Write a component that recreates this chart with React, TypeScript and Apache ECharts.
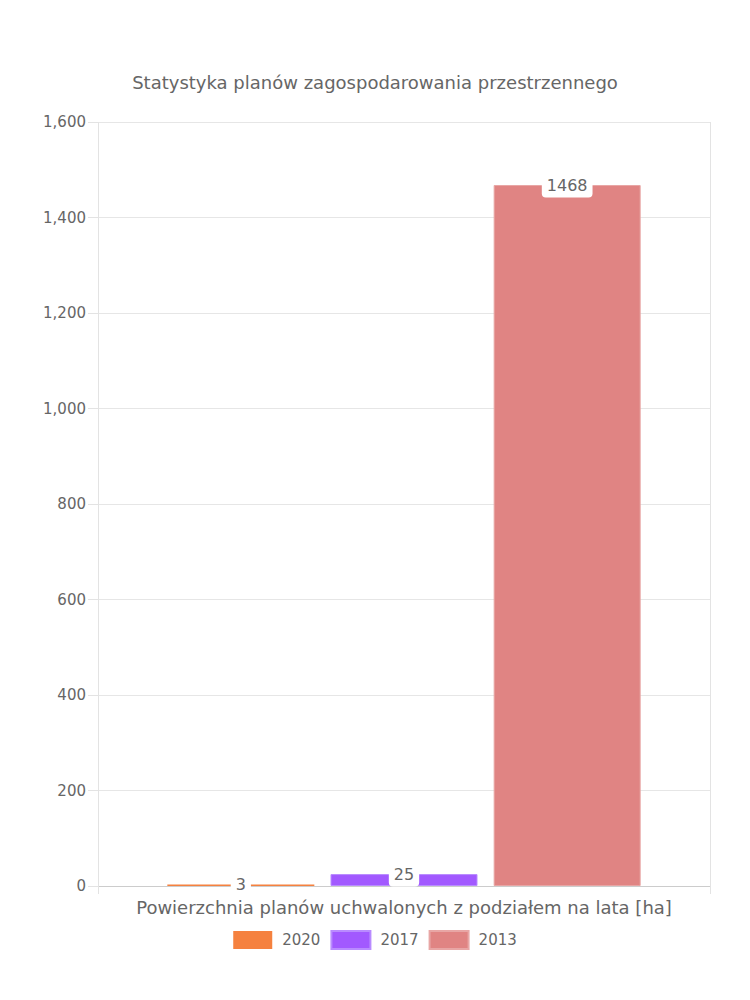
import React, { useEffect, useRef } from "react";
import * as echarts from "echarts";

const title = "Statystyka planów zagospodarowania przestrzennego";
const categories = ["Powierzchnia planów uchwalonych z podziałem na lata [ha]"];
const seriesNames = ["2020", "2017", "2013"];
const seriesValues = [[3], [25], [1468]];
const seriesColors = ["#F5813F", "#A259FF", "#E08483"];
const seriesBorders = ["#F5813F", "#B98BFF", "#E8A6A5"];
const yMin = 0;
const yMax = 1600;
const yInterval = 200;

const FONT = "'DejaVu Sans', 'Noto Sans', sans-serif";

export default function App() {
  const ref = useRef<HTMLDivElement>(null);
  useEffect(() => {
    if (!ref.current) return;
    const chart = echarts.init(ref.current, undefined, { renderer: "svg" });
    chart.setOption({
      animation: false,
      textStyle: { fontFamily: FONT },
      title: {
        text: title,
        left: "center",
        top: 68,
        textStyle: { fontFamily: FONT, fontSize: 18, fontWeight: "normal", color: "#666" },
      },
      legend: {
        data: seriesNames,
        bottom: 45,
        left: "center",
        itemWidth: 39,
        itemHeight: 18,
        itemGap: 10,
        icon: "rect",
        textStyle: { fontFamily: FONT, fontSize: 15, color: "#666", padding: [0, 0, 0, 5] },
      },
      grid: { left: 98, right: 40, top: 122, bottom: 114, containLabel: false },
      xAxis: {
        type: "category",
        data: categories,
        boundaryGap: true,
        axisLine: { show: true, lineStyle: { color: "#ccc" } },
        axisTick: { show: true, length: 8, lineStyle: { color: "#e3e3e3" } },
        splitLine: { show: true, lineStyle: { color: "#e3e3e3" } },
        axisLabel: { fontFamily: FONT, fontSize: 18, color: "#666", margin: 12 },
      },
      yAxis: {
        type: "value",
        min: yMin,
        max: yMax,
        interval: yInterval,
        axisLine: { show: false },
        axisTick: { show: true, length: 10, lineStyle: { color: "#e3e3e3" } },
        splitLine: { show: true, lineStyle: { color: "#e6e6e6" } },
        axisLabel: {
          fontFamily: FONT,
          fontSize: 15,
          color: "#666",
          margin: 12,
          formatter: (v: number) => v.toLocaleString("en-US"),
        },
      },
      series: seriesNames.map((name, i) => ({
        name,
        type: "bar",
        data: seriesValues[i],
        barWidth: 147,
        barGap: "11%",
        itemStyle: { color: seriesColors[i], borderColor: seriesBorders[i], borderWidth: i === 0 ? 0 : 1 },
        label: {
          show: true,
          position: ["50%", 0],
          align: "center",
          verticalAlign: "middle",
          fontFamily: FONT,
          fontSize: 16,
          color: "#666",
          backgroundColor: "#fff",
          borderRadius: 4,
          padding: [5, 5, 4, 5],
        },
      })),
    });
    return () => chart.dispose();
  }, []);
  return <div ref={ref} style={{ width: 750, height: 1000, position: "absolute", left: 0, top: 0 }} />;
}
